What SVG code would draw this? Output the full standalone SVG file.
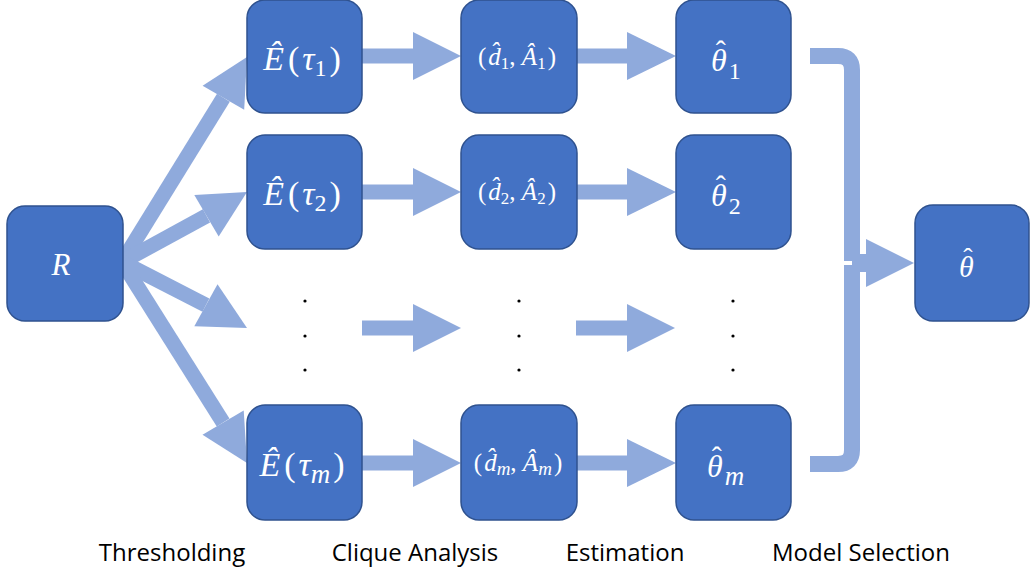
<svg xmlns="http://www.w3.org/2000/svg" width="1030" height="577" viewBox="0 0 1030 577">
<style>
.node rect{fill:#4472C4;stroke:#2F528F;stroke-width:1.5}
.shaft{stroke:#8FAADC;stroke-width:15;fill:none}
.head{fill:#8FAADC}
.br{stroke:#8FAADC;stroke-width:16;fill:none}
.m{font-family:"Liberation Serif","DejaVu Serif",serif;fill:#FFFFFF}
.i{font-style:italic}
.e{font-size:34px;text-anchor:middle}
.d{font-size:25px;text-anchor:middle}
.lbl{font-family:"Open Sans","Noto Sans",sans-serif;font-size:24px;fill:#000000;text-anchor:middle}
.dot{fill:#000000}
</style>
<g id="connectors">
  <line class="shaft" x1="122" y1="262" x2="223.4" y2="97.7"/>
  <polygon class="head" points="247,57 202.6,85.7 244.2,109.7"/>
  <line class="shaft" x1="122" y1="262" x2="206.5" y2="215.8"/>
  <polygon class="head" points="247,192 194.3,195.1 218.7,236.5"/>
  <line class="shaft" x1="122" y1="262" x2="205.9" y2="305.2"/>
  <polygon class="head" points="247,328 194.3,326.2 217.5,284.2"/>
  <line class="shaft" x1="122" y1="262" x2="223.1" y2="422.6"/>
  <polygon class="head" points="247,463 243.7,410.4 202.5,434.8"/>
  <line class="shaft" x1="362" y1="56" x2="414" y2="56"/>
  <polygon class="head" points="413,32 461,56 413,80"/>
  <line class="shaft" x1="577" y1="56" x2="628" y2="56"/>
  <polygon class="head" points="627,32 676,56 627,80"/>
  <line class="shaft" x1="362" y1="192" x2="414" y2="192"/>
  <polygon class="head" points="413,168 461,192 413,216"/>
  <line class="shaft" x1="577" y1="192" x2="628" y2="192"/>
  <polygon class="head" points="627,168 676,192 627,216"/>
  <line class="shaft" x1="362" y1="328" x2="414" y2="328"/>
  <polygon class="head" points="413,304 461,328 413,352"/>
  <line class="shaft" x1="576" y1="328" x2="628" y2="328"/>
  <polygon class="head" points="627,304 675,328 627,352"/>
  <line class="shaft" x1="362" y1="463" x2="414" y2="463"/>
  <polygon class="head" points="413,439 461,463 413,487"/>
  <line class="shaft" x1="577" y1="463" x2="628" y2="463"/>
  <polygon class="head" points="627,439 676,463 627,487"/>
  <path class="br" d="M810,56 L838,56 Q852,56 852,70 L852,261"/>
  <path class="br" d="M810,464 L838,464 Q852,464 852,450 L852,265"/>
  <line class="shaft" x1="852" y1="263" x2="867" y2="263" style="stroke-width:18"/>
  <polygon class="head" points="866,239 914,263 866,287"/>
</g>
<g id="node-R" class="node"><rect x="7" y="206" width="116" height="115" rx="18"/>
  <text class="m i" x="61" y="275" font-size="31" text-anchor="middle">R</text></g>
<g id="node-E1" class="node"><rect x="247" y="0" width="115" height="113" rx="18"/>
  <text class="m e" x="302" y="70"><tspan class="i">Ê</tspan><tspan dx="4">(</tspan><tspan class="i" dx="3">τ</tspan><tspan font-size="24" dy="6">1</tspan><tspan dx="3" dy="-6">)</tspan></text></g>
<g id="node-E2" class="node"><rect x="247" y="135" width="115" height="114" rx="18"/>
  <text class="m e" x="302" y="205"><tspan class="i">Ê</tspan><tspan dx="4">(</tspan><tspan class="i" dx="3">τ</tspan><tspan font-size="24" dy="6">2</tspan><tspan dx="3" dy="-6">)</tspan></text></g>
<g id="node-Em" class="node"><rect x="247" y="405" width="115" height="115" rx="18"/>
  <text class="m e" x="302" y="476"><tspan class="i">Ê</tspan><tspan dx="4">(</tspan><tspan class="i" dx="3">τ</tspan><tspan class="i" font-size="27" dy="7">m</tspan><tspan dx="3" dy="-7">)</tspan></text></g>
<g id="node-D1" class="node"><rect x="461" y="0" width="116" height="113" rx="18"/>
  <text class="m d" x="517" y="65">(<tspan class="i" dx="2">d̂</tspan><tspan font-size="17" dy="4">1</tspan><tspan dy="-4">, </tspan><tspan class="i">Â</tspan><tspan font-size="17" dy="4">1</tspan><tspan dx="2" dy="-4">)</tspan></text></g>
<g id="node-D2" class="node"><rect x="461" y="135" width="116" height="114" rx="18"/>
  <text class="m d" x="517" y="200">(<tspan class="i" dx="2">d̂</tspan><tspan font-size="17" dy="4">2</tspan><tspan dy="-4">, </tspan><tspan class="i">Â</tspan><tspan font-size="17" dy="4">2</tspan><tspan dx="2" dy="-4">)</tspan></text></g>
<g id="node-Dm" class="node"><rect x="461" y="405" width="116" height="115" rx="18"/>
  <text class="m d" x="518" y="471">(<tspan class="i" dx="2">d̂</tspan><tspan class="i" font-size="19" dy="4">m</tspan><tspan dy="-4">, </tspan><tspan class="i">Â</tspan><tspan class="i" font-size="19" dy="4">m</tspan><tspan dx="2" dy="-4">)</tspan></text></g>
<g id="node-T1" class="node"><rect x="676" y="0" width="115" height="113" rx="18"/>
  <text class="m" x="711" y="71" font-size="32"><tspan class="i">θ</tspan><tspan dx="-11" dy="-10" font-size="30">ˆ</tspan><tspan dx="3" dy="18" font-size="24">1</tspan></text></g>
<g id="node-T2" class="node"><rect x="676" y="135" width="115" height="114" rx="18"/>
  <text class="m" x="711" y="206" font-size="32"><tspan class="i">θ</tspan><tspan dx="-11" dy="-10" font-size="30">ˆ</tspan><tspan dx="3" dy="18" font-size="24">2</tspan></text></g>
<g id="node-Tm" class="node"><rect x="676" y="405" width="115" height="115" rx="18"/>
  <text class="m" x="707" y="477" font-size="32"><tspan class="i">θ</tspan><tspan dx="-11" dy="-10" font-size="30">ˆ</tspan><tspan class="i" dx="3" dy="18" font-size="27">m</tspan></text></g>
<g id="node-T" class="node"><rect x="915" y="205" width="114" height="116" rx="18"/>
  <text class="m" x="959" y="277" font-size="30"><tspan class="i">θ</tspan><tspan dx="-10.5" dy="-10" font-size="28">ˆ</tspan></text></g>
<g id="dots">
  <circle class="dot" cx="305" cy="301" r="1.6"/><circle class="dot" cx="305" cy="336" r="1.6"/><circle class="dot" cx="305" cy="370" r="1.6"/>
  <circle class="dot" cx="519" cy="301" r="1.6"/><circle class="dot" cx="519" cy="336" r="1.6"/><circle class="dot" cx="519" cy="370" r="1.6"/>
  <circle class="dot" cx="733" cy="301" r="1.6"/><circle class="dot" cx="733" cy="336" r="1.6"/><circle class="dot" cx="733" cy="370" r="1.6"/>
</g>
<g id="labels">
  <text class="lbl" x="172" y="561">Thresholding</text>
  <text class="lbl" x="415" y="561">Clique Analysis</text>
  <text class="lbl" x="625" y="561">Estimation</text>
  <text class="lbl" x="861" y="561">Model Selection</text>
</g>
</svg>
